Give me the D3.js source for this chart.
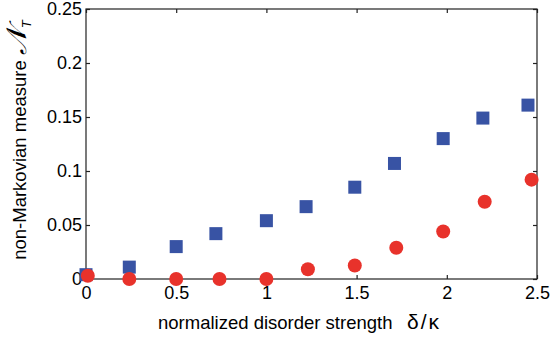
<!DOCTYPE html>
<html>
<head>
<meta charset="utf-8">
<script src="https://cdn.jsdelivr.net/npm/d3@7"></script>
<style>
  body { margin: 0; background: #fff; }
  text { font-family: "Liberation Sans", Arial, sans-serif; fill: #000; }
</style>
</head>
<body>
<svg id="chart" width="550" height="339"></svg>
<script>
// disorder strength values (delta / kappa)
const xVals = [0, 0.24, 0.5, 0.72, 1.0, 1.22, 1.49, 1.71, 1.98, 2.2, 2.45];
// blue squares
const squareVals = [0.004, 0.011, 0.030, 0.042, 0.054, 0.067, 0.085, 0.107, 0.130, 0.149, 0.161];
// red circles
const circleX = [0.01, 0.24, 0.5, 0.74, 1.0, 1.23, 1.49, 1.72, 1.98, 2.21, 2.47];
const circleVals = [0.003, 0.0, 0.0, 0.0, 0.0, 0.009, 0.0125, 0.029, 0.044, 0.0715, 0.092];
const xTicks = [0, 0.5, 1, 1.5, 2, 2.5];
const yTicks = [0, 0.05, 0.1, 0.15, 0.2, 0.25];

const margin = { left: 86, right: 13, top: 9, bottom: 60 };
const width = 550, height = 339;

const svg = d3.select("#chart");

const x = d3.scaleLinear().domain([0, 2.5]).range([margin.left, width - margin.right]);
const y = d3.scaleLinear().domain([0, 0.25]).range([height - margin.bottom, margin.top]);

// frame
svg.append("rect")
    .attr("x", x(0))
    .attr("y", y(0.25))
    .attr("width", x(2.5) - x(0))
    .attr("height", y(0) - y(0.25))
    .attr("fill", "none")
    .attr("stroke", "#222")
    .attr("stroke-width", 1.2);

const fmt = d => d === 0 ? "0" : String(d);

// bottom / top axes (ticks pointing inward)
svg.append("g")
    .attr("transform", `translate(0,${y(0)})`)
    .call(d3.axisBottom(x).tickValues(xTicks).tickSize(-4).tickPadding(7).tickFormat(fmt))
    .call(g => g.select(".domain").remove())
    .call(g => g.selectAll("text").style("font-size", "18px"));
svg.append("g")
    .attr("transform", `translate(0,${y(0.25)})`)
    .call(d3.axisTop(x).tickValues(xTicks).tickSize(-4).tickFormat(""))
    .call(g => g.select(".domain").remove());

// left / right axes
svg.append("g")
    .attr("transform", `translate(${x(0)},0)`)
    .call(d3.axisLeft(y).tickValues(yTicks).tickSize(-4).tickPadding(4).tickFormat(fmt))
    .call(g => g.select(".domain").remove())
    .call(g => g.selectAll("text").style("font-size", "18px"));
svg.append("g")
    .attr("transform", `translate(${x(2.5)},0)`)
    .call(d3.axisRight(y).tickValues(yTicks).tickSize(-4).tickFormat(""))
    .call(g => g.select(".domain").remove());

svg.selectAll(".tick line").attr("stroke", "#222").attr("stroke-width", 1.2);

// squares
const sq = 13;
svg.append("g").selectAll("rect")
    .data(xVals.map((d, i) => [d, squareVals[i]]))
    .join("rect")
    .attr("x", d => x(d[0]) - sq / 2)
    .attr("y", d => y(d[1]) - sq / 2)
    .attr("width", sq)
    .attr("height", sq)
    .attr("fill", "#3853a4");

// circles
svg.append("g").selectAll("circle")
    .data(circleX.map((d, i) => [d, circleVals[i]]))
    .join("circle")
    .attr("cx", d => x(d[0]))
    .attr("cy", d => y(d[1]))
    .attr("r", 7)
    .attr("fill", "#e8322b");

// x label
const xl = svg.append("text")
    .attr("x", 158)
    .attr("y", 329)
    .style("font-size", "18.5px");
xl.append("tspan").text("normalized disorder strength");
xl.append("tspan").attr("x", 407).style("font-size", "21px").style("letter-spacing", "2px").text("δ/κ");

// y label
const yl = svg.append("text")
    .attr("transform", "translate(26,140) rotate(-90)")
    .attr("text-anchor", "middle")
    .style("font-size", "18.5px");
yl.append("tspan").text("non-Markovian measure ");
yl.append("tspan").style("font-size", "28px").style("font-style", "italic").text("𝒩");
yl.append("tspan").attr("dy", 5).style("font-size", "13px").style("font-style", "italic").text("T");
</script>
</body>
</html>
